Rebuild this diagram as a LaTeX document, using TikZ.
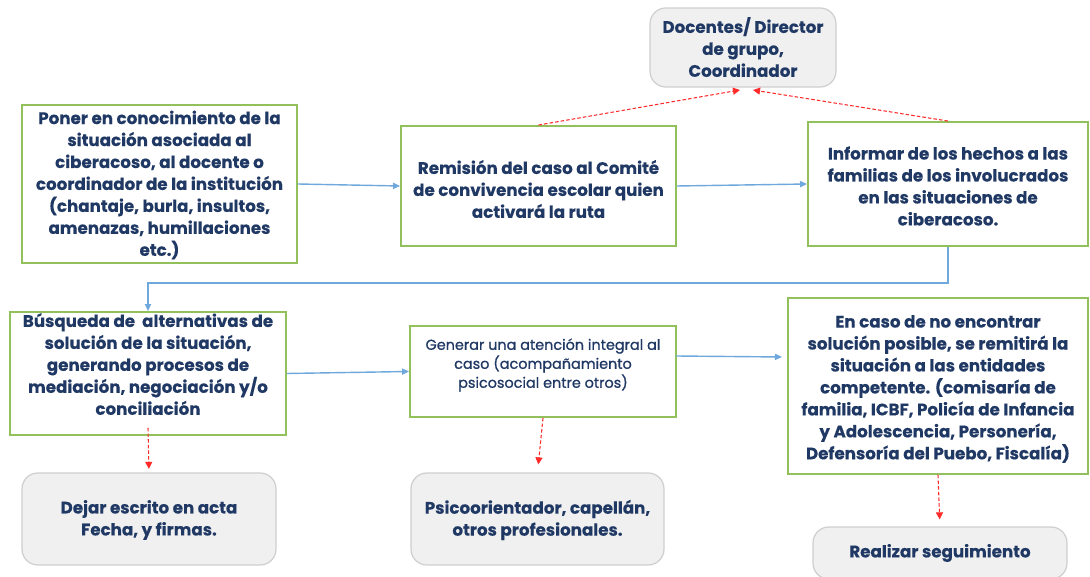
\documentclass[tikz,border=0pt]{standalone}
\usepackage{fontspec}
\setmainfont{Poppins}
\usetikzlibrary{arrows.meta}
\definecolor{navy}{HTML}{1F3864}
\definecolor{gborder}{HTML}{92C05A}
\definecolor{gfill}{HTML}{F0F0F0}
\definecolor{gline}{HTML}{CFCFCF}
\definecolor{barrow}{HTML}{6FA8DC}
\definecolor{rarrow}{HTML}{FF2A2A}
\begin{document}
\begin{tikzpicture}[x=0.02cm,y=-0.02cm,
  greenbox/.style={draw=gborder,line width=1.1pt,fill=white,inner sep=0pt},
  graybox/.style={draw=gline,line width=0.7pt,fill=gfill,rounded corners=9pt,inner sep=0pt},
  txt/.style={text=navy,font=\fontsize{9.5}{12.5}\selectfont\bfseries\addfontfeature{FakeBold=0.3},align=center,inner sep=0pt},
  smalltxt/.style={text=navy,font=\fontsize{8.2}{10.8}\selectfont\addfontfeature{FakeBold=0.9},align=center,inner sep=0pt},
  blueflow/.style={draw=barrow,line width=0.8pt,-{Triangle[length=4pt,width=3.5pt]}},
  redflow/.style={draw=rarrow,line width=0.6pt,dash pattern=on 2pt off 1.2pt,-{Triangle[length=4pt,width=4pt]}}
]
\useasboundingbox (0,0) rectangle (1090,577);
\fill[white] (0,0) rectangle (1090,577);

% boxes
\node[greenbox,minimum width=5.5cm,minimum height=3.16cm] (A) at (159.5,184) {};
\node[greenbox,minimum width=5.5cm,minimum height=2.4cm] (B) at (538.5,186) {};
\node[greenbox,minimum width=5.6cm,minimum height=2.48cm] (C) at (948,184) {};
\node[graybox,minimum width=3.72cm,minimum height=1.58cm] (D) at (743,47.5) {};
\node[greenbox,minimum width=5.52cm,minimum height=2.46cm] (E) at (148,373.5) {};
\node[greenbox,minimum width=5.32cm,minimum height=1.82cm] (F) at (543,371.5) {};
\node[greenbox,minimum width=6cm,minimum height=3.52cm] (G) at (938,386) {};
\node[graybox,minimum width=5.08cm,minimum height=1.84cm] (H) at (149,519) {};
\node[graybox,minimum width=5.06cm,minimum height=1.84cm] (I) at (537.5,519) {};
\node[graybox,minimum width=5.08cm,minimum height=1.04cm] (J) at (940,553) {};

% texts
\node[txt] (At) at (159.5,185) {Poner en conocimiento de la\\situación asociada al\\ciberacoso, al docente o\\coordinador de la institución\\(chantaje, burla, insultos,\\amenazas, humillaciones\\etc.)};
\node[txt] (Bt) at (538.5,189) {Remisión del caso al Comité\\de convivencia escolar quien\\activará la ruta};
\node[txt] (Ct) at (948,186) {Informar de los hechos a las\\familias de los involucrados\\en las situaciones de\\ciberacoso.};
\node[txt] (Dt) at (743,47) {Docentes/ Director\\de grupo,\\Coordinador};
\node[txt] (Et) at (148,364) {Búsqueda de\ \ alternativas de\\solución de la situación,\\generando procesos de\\mediación, negociación y/o\\conciliación};
\node[smalltxt] (Ft) at (543,365) {Generar una atención integral al\\caso (acompañamiento\\psicosocial entre otros)};
\node[txt] (Gt) at (938,389) {En caso de no encontrar\\solución posible, se remitirá la\\situación a las entidades\\competente. (comisaría de\\familia, ICBF, Policía de Infancia\\y Adolescencia, Personería,\\Defensoría del Puebo, Fiscalía)};
\node[txt] (Ht) at (149,520) {Dejar escrito en acta\\Fecha, y firmas.};
\node[txt] (It) at (537.5,520) {Psicoorientador, capellán,\\otros profesionales.};
\node[txt] (Jt) at (940,553) {Realizar seguimiento};

% named free ends
\coordinate (gIn) at (782,357);
\coordinate (fOut) at (676,356);
\coordinate (dInB) at (740,90);
\coordinate (dInC) at (753,90);

% blue flow
\draw[blueflow] (A.east) -- (B.west);
\draw[blueflow] (B.east) -- (C.west);
\draw[blueflow] (C.south) -- ++(0,36) -| (E.north);
\draw[blueflow] (E.east) -- (F.west);
\draw[blueflow] (fOut) -- (gIn);

% red dashed
\draw[redflow] (B.north) -- (dInB);
\draw[redflow] (C.north) -- (dInC);
\draw[redflow,shorten >=2pt] ([yshift=0.16cm]E.south) -- (H.north);
\draw[redflow,shorten >=0.16cm] (F.south) -- (I.north);
\draw[redflow,shorten >=0.14cm] (G.south) -- (J.north);
\end{tikzpicture}
\end{document}
